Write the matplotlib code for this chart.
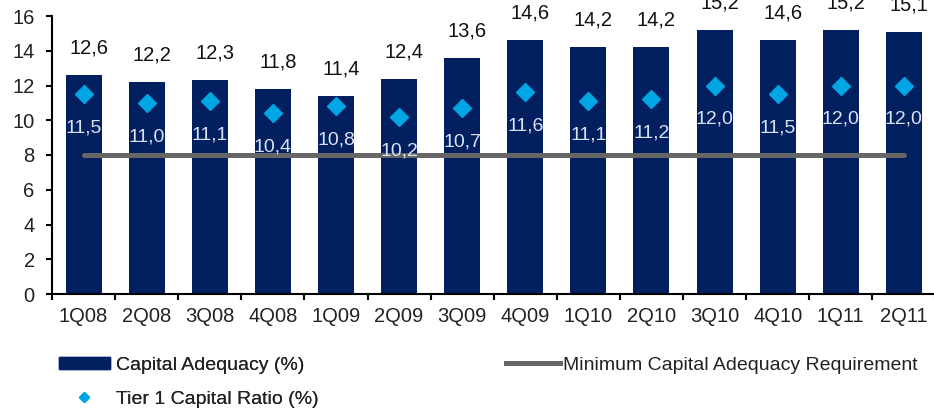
import matplotlib
matplotlib.use("Agg")
import matplotlib.pyplot as plt
from matplotlib.lines import Line2D
from matplotlib.patches import Patch

plt.rcParams['font.family'] = ['Liberation Sans', 'DejaVu Sans']

categories = ["1Q08", "2Q08", "3Q08", "4Q08", "1Q09", "2Q09", "3Q09", "4Q09",
              "1Q10", "2Q10", "3Q10", "4Q10", "1Q11", "2Q11"]
capital_adequacy = [12.6, 12.2, 12.3, 11.8, 11.4, 12.4, 13.6, 14.6, 14.2, 14.2, 15.2, 14.6, 15.2, 15.1]
tier1 = [11.5, 11.0, 11.1, 10.4, 10.8, 10.2, 10.7, 11.6, 11.1, 11.2, 12.0, 11.5, 12.0, 12.0]
min_req = [8] * len(categories)

def fmt(v):
    return f"{v:.1f}".replace(".", ",")

W, H = 934, 408
fig = plt.figure(figsize=(W / 100, H / 100), dpi=100)
ax = fig.add_axes([52 / W, (H - 294) / H, (14 * 63.1) / W, (294 - 16) / H])

x = list(range(len(categories)))
navy = "#022060"
cyan = "#00A5E3"
ax.bar(x, capital_adequacy, width=0.57, color=navy, zorder=2)
ax.plot(x, min_req, color="#666666", lw=3.6, solid_capstyle="round", zorder=3)
ax.plot(x, tier1, ls="none", marker="D", ms=8.8, color=cyan, zorder=4)

for xi, v in zip(x, capital_adequacy):
    ax.annotate(fmt(v), (xi, v), xytext=(5, 27), textcoords="offset pixels",
                ha="center", va="center", fontsize=14.5, color="#111111",
                annotation_clip=False)
for xi, v in zip(x, tier1):
    ax.annotate(fmt(v), (xi, v), xytext=(0, -34), textcoords="offset pixels",
                ha="center", va="center", fontsize=14, color="#D9E2F2", zorder=5)

ax.set_xlim(-0.5, len(categories) - 0.5)
ax.set_ylim(0, 16)
ax.set_yticks(range(0, 17, 2))
ax.set_xticks(x)
ax.set_xticklabels(categories, color="#222222")
ax.set_xticks([i - 0.5 for i in range(len(categories) + 1)], minor=True)
ax.tick_params(axis="x", which="major", length=0, labelsize=14.5, pad=9)
ax.tick_params(axis="x", which="minor", length=4.5, width=1.5, direction="out")
ax.tick_params(axis="y", length=4.5, width=1.5, direction="out", labelsize=14.5, pad=8,
               labelcolor="#222222")
for s in ["top", "right"]:
    ax.spines[s].set_visible(False)
for s in ["left", "bottom"]:
    ax.spines[s].set_linewidth(1.5)

fs = 14
h1 = Patch(color=navy)
h2 = Line2D([], [], ls="none", marker="D", ms=5.5, color=cyan)
h3 = Line2D([], [], color="#666666", lw=3.6)
leg1 = fig.legend([h1, h2], ["Capital Adequacy (%)", "Tier 1 Capital Ratio (%)"],
                  loc="upper left", bbox_to_anchor=(51 / W, 1 - 349 / H), frameon=False,
                  prop={"size": fs}, handlelength=2.63, handleheight=0.52,
                  labelspacing=0.86, handletextpad=0.3, borderaxespad=0,
                  labelcolor="#222222")
leg2 = fig.legend([h3], ["Minimum Capital Adequacy Requirement"],
                  loc="upper left", bbox_to_anchor=(498 / W, 1 - 349 / H), frameon=False,
                  prop={"size": fs}, handlelength=2.78, handleheight=0.52,
                  handletextpad=0.15, borderaxespad=0, labelcolor="#222222")
fig.add_artist(leg1)

fig.savefig("out.png", dpi=100)
